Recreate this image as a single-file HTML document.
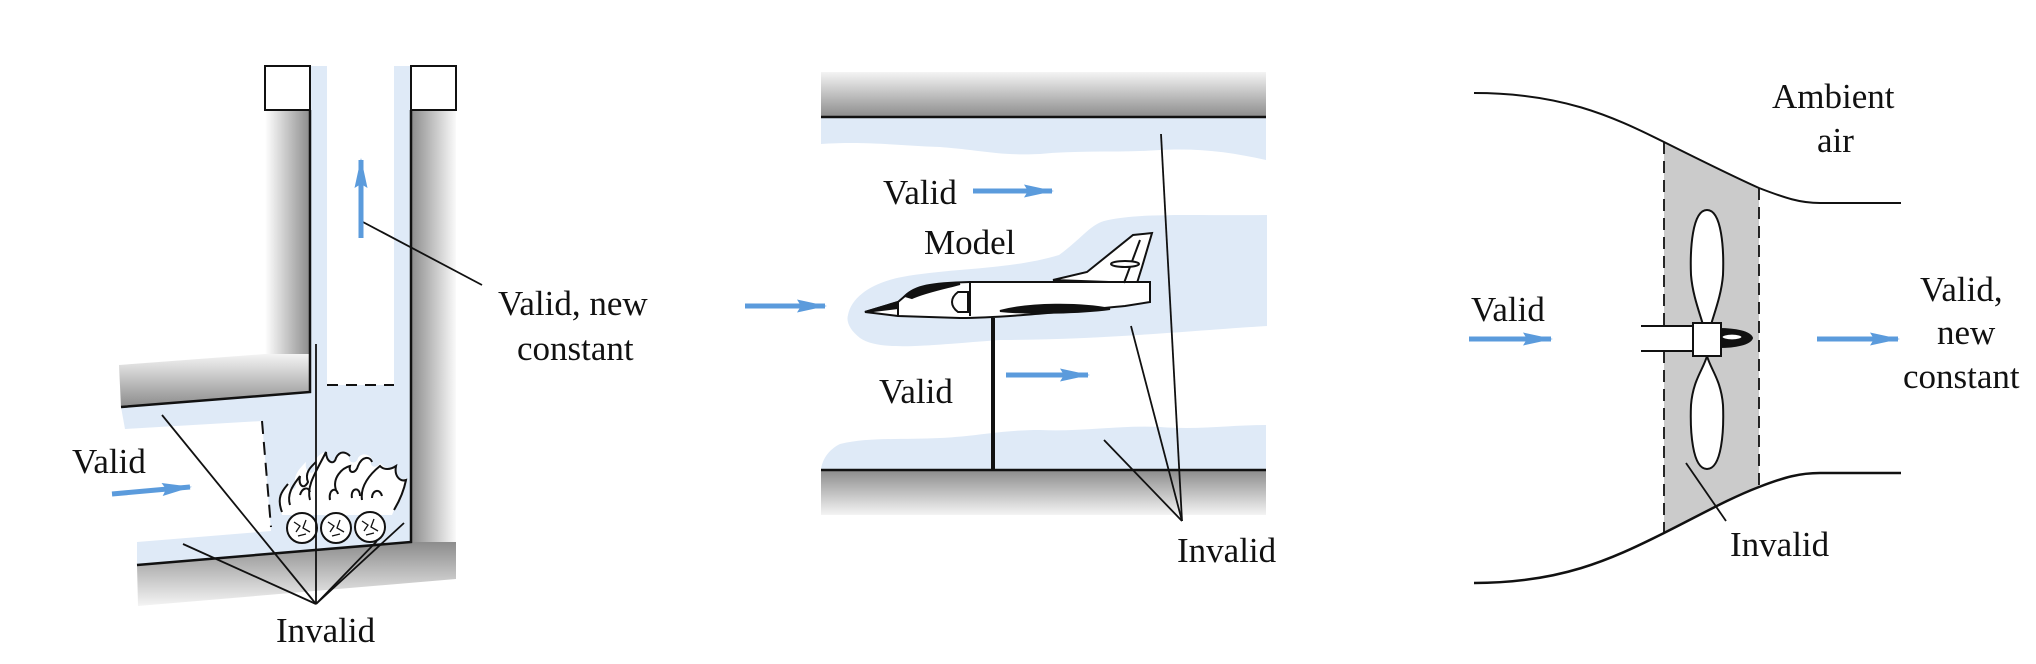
<!DOCTYPE html>
<html><head><meta charset="utf-8"><style>
html,body{margin:0;padding:0;background:#fff;}
svg{display:block;}
text{font-family:"Liberation Serif",serif;font-size:35px;fill:#111;}
</style></head><body>
<svg width="2036" height="664" viewBox="0 0 2036 664" xmlns="http://www.w3.org/2000/svg">
<defs>
<linearGradient id="gR" x1="0" x2="1" y1="0" y2="0"><stop offset="0" stop-color="#fff"/><stop offset="1" stop-color="#8c8c8c"/></linearGradient>
<linearGradient id="gL" x1="0" x2="1" y1="0" y2="0"><stop offset="0" stop-color="#8c8c8c"/><stop offset="1" stop-color="#fafafa"/></linearGradient>
<linearGradient id="gD" x1="0" x2="0" y1="0" y2="1"><stop offset="0" stop-color="#f4f4f4"/><stop offset="1" stop-color="#8c8c8c"/></linearGradient>
<linearGradient id="gU" x1="0" x2="0" y1="0" y2="1"><stop offset="0" stop-color="#8c8c8c"/><stop offset="1" stop-color="#f4f4f4"/></linearGradient>
<marker id="ah" viewBox="0 0 30 13" refX="28" refY="6.5" markerWidth="6" markerHeight="2.6" orient="auto" markerUnits="strokeWidth"><path d="M0,0 L30,6.5 L0,13 L4,6.5 Z" fill="#5b9bdc"/></marker>
</defs>

<!-- ========== PANEL 1 ========== -->
<rect x="265" y="110" width="45" height="260" fill="url(#gR)"/>
<polygon points="119,365 265,354 310,354 310,392 121,407" fill="url(#gD)"/>
<rect x="411" y="110" width="45" height="440" fill="url(#gL)"/>
<polygon points="137,565 411,542 456,542 456,579 138,606" fill="url(#gU)"/>
<polygon points="121,407 310,392 310,66 327,66 327,385 394,385 394,66 411,66 411,542 137,565 137,542 271,531 262,421 125,429" fill="#dfeaf7"/>
<rect x="265" y="66" width="45" height="44" fill="#fff" stroke="#111" stroke-width="2"/>
<rect x="411" y="66" width="45" height="44" fill="#fff" stroke="#111" stroke-width="2"/>
<polyline points="310,110 310,392 121,407" fill="none" stroke="#111" stroke-width="2.5"/>
<polyline points="411,110 411,542 137,565" fill="none" stroke="#111" stroke-width="2.5"/>
<line x1="327" y1="385" x2="394" y2="385" stroke="#111" stroke-width="2" stroke-dasharray="11,8"/>
<line x1="262" y1="421" x2="271" y2="527" stroke="#111" stroke-width="2" stroke-dasharray="13,8"/>
<!-- fire -->
<path d="M282,515 C276,495 285,488 290,482 C288,490 294,492 296,486 C292,476 300,468 306,462 C304,472 312,476 315,470 C312,460 320,453 326,452 C324,462 334,466 336,458 C338,452 346,450 350,455 C346,462 356,466 358,458 C362,452 370,454 372,460 C368,466 376,470 380,463 C384,468 392,470 396,466 C394,476 402,482 406,478 C404,490 398,500 392,515 Z" fill="#fff"/>
<g fill="none" stroke="#111" stroke-width="2">
<path d="M282,512 C276,497 283,490 288,484"/>
<path d="M290,505 C286,492 296,482 300,476 C298,486 304,490 308,482 C304,472 312,466 316,462"/>
<path d="M310,500 C306,486 316,472 326,452 C326,462 334,466 336,458 C340,450 346,452 350,456"/>
<path d="M336,490 C332,478 342,468 350,466 C348,474 356,474 358,466 C362,456 370,456 372,462"/>
<path d="M362,500 C360,486 370,474 380,466 C384,470 390,470 396,466 C394,476 400,482 406,480 C404,490 400,500 394,510"/>
<path d="M300,495 C302,488 308,486 310,492"/><path d="M330,500 C328,490 336,486 338,494"/><path d="M352,498 C350,488 360,486 360,496"/><path d="M372,498 C372,490 380,488 382,496"/>
</g>
<g fill="#fff" stroke="#111" stroke-width="2">
<circle cx="302" cy="528" r="15"/><circle cx="336" cy="528" r="15"/><circle cx="370" cy="527" r="15"/>
</g>
<g fill="none" stroke="#111" stroke-width="1.3">
<path d="M294,522 l6,4 l-4,6 M306,520 l-3,8 l7,4 M298,536 l8,-2"/>
<path d="M328,522 l6,4 l-4,6 M340,520 l-3,8 l7,4 M332,536 l8,-2"/>
<path d="M362,521 l6,4 l-4,6 M374,519 l-3,8 l7,4 M366,535 l8,-2"/>
</g>
<g stroke="#111" stroke-width="1.8" fill="none">
<line x1="316" y1="344" x2="316" y2="604"/>
<line x1="162" y1="415" x2="316" y2="604"/>
<line x1="183" y1="544" x2="316" y2="604"/>
<line x1="377" y1="541" x2="316" y2="604"/>
<line x1="404" y1="523" x2="316" y2="604"/>
<line x1="361" y1="221" x2="482" y2="285"/>
</g>
<line x1="361" y1="238" x2="361" y2="160" stroke="#5b9bdc" stroke-width="5" marker-end="url(#ah)"/>
<line x1="112" y1="494" x2="190" y2="487" stroke="#5b9bdc" stroke-width="5" marker-end="url(#ah)"/>
<text x="498" y="315">Valid, new</text>
<text x="517" y="360">constant</text>
<text x="72" y="473">Valid</text>
<text x="276" y="642">Invalid</text>

<!-- ========== PANEL 2 ========== -->
<rect x="821" y="72" width="445" height="45" fill="url(#gD)"/>
<rect x="821" y="470" width="445" height="45" fill="url(#gU)"/>
<path d="M821,117 L1266,117 L1266,160 C1230,152 1200,148 1160,150 C1120,153 1080,150 1040,154 C1000,156 980,150 940,147 C900,146 870,141 821,144 Z" fill="#dfeaf7"/>
<path d="M821,470 L1266,470 L1266,425 C1230,425 1200,430 1160,427 C1120,425 1080,432 1040,430 C1000,430 980,436 940,438 C900,440 870,437 840,444 C828,450 822,460 821,470 Z" fill="#dfeaf7"/>
<path d="M848,315 C852,295 875,282 902,277 C950,268 1010,270 1059,255 C1080,240 1090,225 1104,221 C1140,212 1200,216 1267,215 L1267,326 C1200,330 1100,340 1000,340 C930,345 880,352 860,338 C850,330 846,322 848,315 Z" fill="#dfeaf7"/>
<line x1="821" y1="117" x2="1266" y2="117" stroke="#111" stroke-width="2.5"/>
<line x1="821" y1="470" x2="1266" y2="470" stroke="#111" stroke-width="2.5"/>
<line x1="993" y1="318" x2="993" y2="470" stroke="#111" stroke-width="4"/>
<g stroke="#111" stroke-width="2" fill="#fff">
<path d="M1053,280 L1087,272 L1133,235 L1152,233 L1142,267 L1137,283 Z"/>
<path d="M865,312 L898,302 L905,296 C915,286 930,283 970,282 L1150,282 L1150,302 L1125,306 C1060,312 1000,318 960,318 L898,316 Z"/>
<line x1="1140" y1="240" x2="1124" y2="283"/>
<ellipse cx="1125" cy="264" rx="14" ry="3"/>
<line x1="898" y1="302" x2="898" y2="316"/>
<line x1="970" y1="282" x2="970" y2="316"/>
<path d="M1000,311 C1030,303 1080,303 1110,309 C1080,313 1030,314 1000,311 Z" fill="#111"/>
<path d="M905,296 C915,286 935,284 960,284 C945,288 925,292 912,298 Z" fill="#111"/>
<path d="M865,312 L898,302 L898,308 Z" fill="#111"/>
<path d="M958,292 C950,298 950,306 958,312 L968,312 L968,292 Z" fill="#fff"/>
</g>
<g stroke="#111" stroke-width="1.8">
<line x1="1161" y1="134" x2="1182" y2="521"/>
<line x1="1131" y1="326" x2="1182" y2="521"/>
<line x1="1104" y1="440" x2="1182" y2="521"/>
</g>
<line x1="973" y1="191" x2="1052" y2="191" stroke="#5b9bdc" stroke-width="5" marker-end="url(#ah)"/>
<line x1="745" y1="306" x2="825" y2="306" stroke="#5b9bdc" stroke-width="5" marker-end="url(#ah)"/>
<line x1="1006" y1="375" x2="1088" y2="375" stroke="#5b9bdc" stroke-width="5" marker-end="url(#ah)"/>
<text x="883" y="204">Valid</text>
<text x="924" y="254">Model</text>
<text x="879" y="403">Valid</text>
<text x="1177" y="562">Invalid</text>

<!-- ========== PANEL 3 ========== -->
<path d="M1664,142 C1700,160 1730,175 1759,188 L1759,487 C1730,498 1700,515 1664,533 Z" fill="#cbcbcb"/>
<line x1="1664" y1="142" x2="1664" y2="533" stroke="#111" stroke-width="1.8" stroke-dasharray="12,7"/>
<line x1="1759" y1="188" x2="1759" y2="487" stroke="#111" stroke-width="1.8" stroke-dasharray="12,7"/>
<path d="M1474,93 C1560,93 1610,115 1664,142 C1700,160 1730,175 1759,188 C1785,198 1800,203 1820,203 L1901,203" fill="none" stroke="#111" stroke-width="2"/>
<path d="M1474,583 C1560,583 1610,560 1664,533 C1700,515 1730,498 1759,487 C1785,477 1800,473 1820,473 L1901,473" fill="none" stroke="#111" stroke-width="2.5"/>
<g stroke="#111" stroke-width="2" fill="#fff">
<path d="M1707,210 C1692,210 1690,250 1691,275 C1693,300 1703,320 1707,340 C1711,320 1721,300 1723,275 C1724,250 1722,210 1707,210 Z"/>
<path d="M1707,469 C1692,469 1690,430 1691,405 C1693,380 1703,370 1707,356 C1711,370 1721,380 1723,405 C1724,430 1722,469 1707,469 Z"/>
<path d="M1719,329 C1735,329 1750,332 1752,338 C1750,344 1735,347 1719,347 Z" fill="#111"/>
<ellipse cx="1732" cy="337" rx="10" ry="3" fill="#fff" stroke-width="1.2"/>
<rect x="1641" y="326" width="54" height="25" fill="#fff" stroke="none"/>
<line x1="1641" y1="326" x2="1695" y2="326"/>
<line x1="1641" y1="351" x2="1695" y2="351"/>
<rect x="1693" y="323" width="28" height="33"/>
</g>
<line x1="1686" y1="463" x2="1726" y2="521" stroke="#111" stroke-width="1.8"/>
<line x1="1469" y1="339" x2="1551" y2="339" stroke="#5b9bdc" stroke-width="5" marker-end="url(#ah)"/>
<line x1="1817" y1="339" x2="1898" y2="339" stroke="#5b9bdc" stroke-width="5" marker-end="url(#ah)"/>
<text x="1471" y="321">Valid</text>
<text x="1772" y="108">Ambient</text>
<text x="1817" y="152">air</text>
<text x="1920" y="301">Valid,</text>
<text x="1937" y="344">new</text>
<text x="1903" y="388">constant</text>
<text x="1730" y="556">Invalid</text>
</svg>
</body></html>
